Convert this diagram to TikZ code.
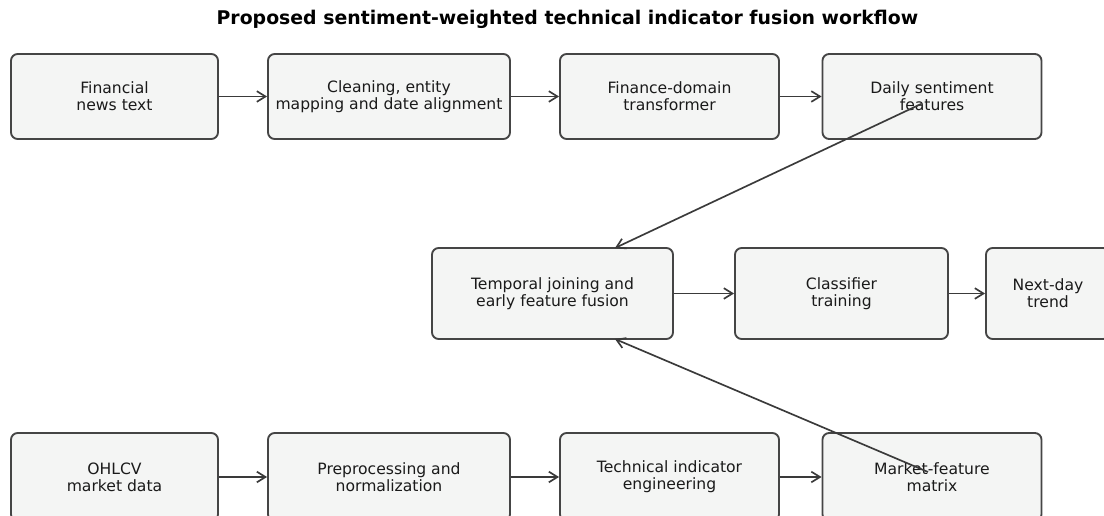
\documentclass[tikz,border=0pt]{standalone}
\usepackage{fontspec}
\setmainfont{DejaVu Sans}
\usetikzlibrary{arrows.meta}
\definecolor{boxfill}{HTML}{F4F5F4}
\definecolor{boxdraw}{HTML}{454545}
\definecolor{linecol}{HTML}{3A3A3A}
\definecolor{txt}{HTML}{1A1A1A}
\begin{document}
\begin{tikzpicture}[x=0.75pt,y=-0.75pt,
  stepbox/.style={draw=boxdraw,fill=boxfill,line width=1.4pt,rounded corners=5pt,
    align=center,text=txt,font=\fontsize{11.7pt}{12.9pt}\selectfont,inner sep=0pt},
  flow/.style={draw=linecol,line width=1.25pt,-{Straight Barb[length=6.5pt,width=8pt,line width=1.25pt]}}]
\useasboundingbox (0,0) rectangle (1104,516);
\node[font=\bfseries\fontsize{14.15pt}{16pt}\selectfont,text=black] (title) at (567.5,19) {Proposed sentiment-weighted technical indicator fusion workflow};
% row 1
\node[stepbox,minimum width=207*0.75pt,minimum height=85*0.75pt] (b1) at (114.5,96.5) {Financial\\news text};
\node[stepbox,minimum width=242*0.75pt,minimum height=85*0.75pt] (b2) at (389,96.5) {Cleaning, entity\\mapping and date alignment};
\node[stepbox,minimum width=219*0.75pt,minimum height=85*0.75pt] (b3) at (669.5,96.5) {Finance-domain\\transformer};
\node[stepbox,minimum width=219*0.75pt,minimum height=85*0.75pt] (b4) at (932,96.5) {Daily sentiment\\features};
% row 2
\node[stepbox,minimum width=241*0.75pt,minimum height=91*0.75pt] (b5) at (552.5,293.5) {Temporal joining and\\early feature fusion};
\node[stepbox,minimum width=213*0.75pt,minimum height=91*0.75pt] (b6) at (841.5,293.5) {Classifier\\training};
\node[stepbox,minimum width=124*0.75pt,minimum height=91*0.75pt] (b7) at (1048,293.5) {Next-day\\trend};
% row 3
\node[stepbox,minimum width=207*0.75pt,minimum height=88*0.75pt] (m1) at (114.5,477) {OHLCV\\market data};
\node[stepbox,minimum width=242*0.75pt,minimum height=88*0.75pt] (m2) at (389,477) {Preprocessing and\\normalization};
\node[stepbox,minimum width=219*0.75pt,minimum height=88*0.75pt] (m3) at (669.5,477) {Technical indicator\\engineering};
\node[stepbox,minimum width=219*0.75pt,minimum height=88*0.75pt] (m4) at (932,477) {Market-feature\\matrix};
% connectors
\draw[flow] (b1) -- (b2);
\draw[flow] (b2) -- (b3);
\draw[flow] (b3) -- (b4);
\draw[flow] (b5) -- (b6);
\draw[flow] (b6) -- (b7);
\draw[flow] (m1) -- (m2);
\draw[flow] (m2) -- (m3);
\draw[flow] (m3) -- (m4);
\coordinate (s4) at (921,104);
\coordinate (t5) at (615,248);
\coordinate (sm4) at (928,472);
\coordinate (u5) at (615,339);
\draw[flow] (s4) -- (t5);
\draw[flow] (sm4) -- (u5);
\end{tikzpicture}
\end{document}
